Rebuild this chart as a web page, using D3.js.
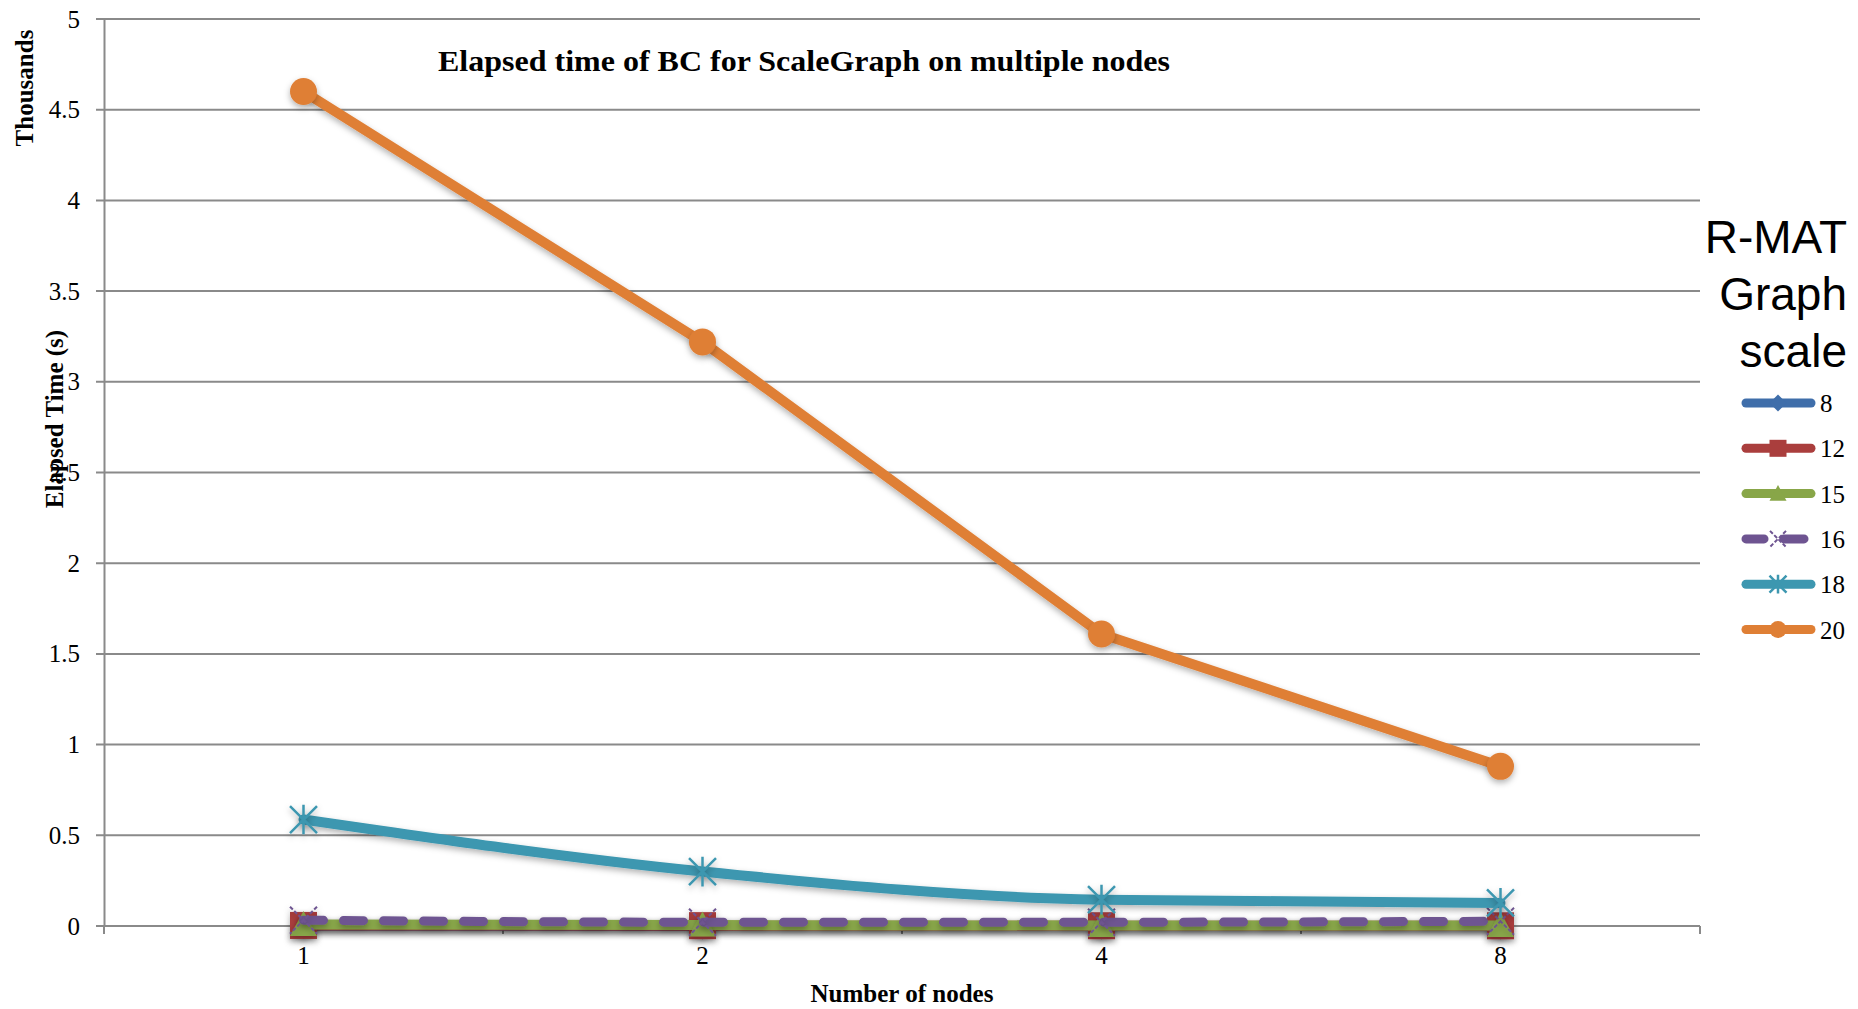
<!DOCTYPE html>
<html><head><meta charset="utf-8">
<script src="https://cdn.jsdelivr.net/npm/d3@7"></script>
<style>
body{margin:0;background:#fff;}
svg{display:block;}
</style></head>
<body>
<svg id="chart" width="1858" height="1009"></svg>
<script>
// ---- data ----
const categories = ["1", "2", "4", "8"];
const seriesNames = ["8", "12", "15", "16", "18", "20"];
const s8  = [1, 0.5, 0.4, 0.3];
const s12 = [3, 2, 1.5, 1.2];
const s15 = [8, 5, 3, 2.5];
const s16 = [32, 21, 21, 26];
const s18 = [587, 300, 145, 127];
const s20 = [4600, 3220, 1610, 880];
const yTicks = [0, 0.5, 1, 1.5, 2, 2.5, 3, 3.5, 4, 4.5, 5];

const seriesValues = [s8, s12, s15, s16, s18, s20];
const colors = ["#3F6EAA", "#AA3E3D", "#88A648", "#6E5491", "#3D97B0", "#DF7F35"];
const markers = ["diamond", "square", "triangle", "x", "star", "circle"];

const svg = d3.select("#chart");
const mLeft = 104, mRight = 1700, mTop = 19, mBottom = 926;

const x = d3.scaleBand().domain(categories).range([mLeft, mRight]);
const y = d3.scaleLinear().domain([0, 5]).range([mBottom, mTop]);
const cx = c => x(c) + x.bandwidth() / 2;

// shadow filter
const defs = svg.append("defs");
const f = defs.append("filter").attr("id", "sh").attr("filterUnits", "userSpaceOnUse")
  .attr("x", 0).attr("y", 0).attr("width", 1858).attr("height", 1009);
f.append("feDropShadow").attr("dx", 0).attr("dy", 3).attr("stdDeviation", 3).attr("flood-color", "#000").attr("flood-opacity", 0.3);

// gridlines
svg.append("g").selectAll("line").data(yTicks).join("line")
  .attr("x1", mLeft - 8).attr("x2", mRight)
  .attr("y1", d => y(d)).attr("y2", d => y(d))
  .attr("stroke", "#8a8a8a").attr("stroke-width", 2);

// y axis
const yAxis = svg.append("g").attr("transform", `translate(${mLeft},0)`)
  .call(d3.axisLeft(y).tickValues(yTicks).tickSize(0).tickPadding(24).tickFormat(d3.format("")));
yAxis.select(".domain").attr("stroke", "#8a8a8a").attr("stroke-width", 2);
yAxis.selectAll("text").attr("font-family", "Liberation Serif").attr("font-size", 25).attr("fill", "#000");

// x axis
const xAxis = svg.append("g").attr("transform", `translate(0,${mBottom})`)
  .call(d3.axisBottom(x).tickSize(0).tickPadding(20));
xAxis.select(".domain").remove();
xAxis.selectAll("text").attr("font-family", "Liberation Serif").attr("font-size", 25).attr("fill", "#000");
svg.append("line").attr("x1", mLeft).attr("x2", mRight).attr("y1", mBottom).attr("y2", mBottom)
  .attr("stroke", "#8a8a8a").attr("stroke-width", 2);
const bounds = categories.map(c => x(c)).concat([mRight]);
svg.append("g").selectAll("line").data(bounds).join("line")
  .attr("x1", d => d).attr("x2", d => d).attr("y1", mBottom).attr("y2", mBottom + 8)
  .attr("stroke", "#8a8a8a").attr("stroke-width", 2);

// marker drawing
function drawMarker(g, type, color, px, py, s) {
  const h = s / 2;
  if (type === "diamond") {
    g.append("path").attr("d", `M${px},${py - h}L${px + h},${py}L${px},${py + h}L${px - h},${py}Z`).attr("fill", color);
  } else if (type === "square") {
    g.append("rect").attr("x", px - h).attr("y", py - h).attr("width", s).attr("height", s).attr("fill", color);
  } else if (type === "triangle") {
    g.append("path").attr("d", `M${px},${py - h}L${px + h},${py + h * 0.85}L${px - h},${py + h * 0.85}Z`).attr("fill", color);
  } else if (type === "x") {
    g.append("path").attr("d", `M${px - h},${py - h}L${px + h},${py + h}M${px + h},${py - h}L${px - h},${py + h}`)
      .attr("stroke", color).attr("stroke-width", 2).attr("stroke-dasharray", "4,2").attr("fill", "none");
  } else if (type === "star") {
    g.append("path").attr("d", `M${px - h},${py - h}L${px + h},${py + h}M${px + h},${py - h}L${px - h},${py + h}M${px},${py - h * 1.1}L${px},${py + h * 1.1}`)
      .attr("stroke", color).attr("stroke-width", 2.5).attr("fill", "none");
  } else if (type === "circle") {
    g.append("circle").attr("cx", px).attr("cy", py).attr("r", h).attr("fill", color);
  }
}

const line = d3.line().x((d, i) => cx(categories[i])).y(d => y(d / 1000)).curve(d3.curveMonotoneX);
const lineStraight = d3.line().x((d, i) => cx(categories[i])).y(d => y(d / 1000));

seriesValues.forEach((vals, si) => {
  const g = svg.append("g");
  const isDash = markers[si] === "x";
  g.append("path").datum(vals)
    .attr("d", si === 5 ? lineStraight : line)
    .attr("fill", "none").attr("stroke", colors[si])
    .attr("stroke-width", isDash ? 9 : 10)
    .attr("stroke-linecap", "round").attr("stroke-linejoin", "round")
    .attr("stroke-dasharray", isDash ? "20,20" : null)
    .attr("filter", "url(#sh)");
  const mg = g.append("g").attr("filter", "url(#sh)");
  vals.forEach((v, i) => drawMarker(mg, markers[si], colors[si], cx(categories[i]), y(v / 1000), 27));
});

// title
svg.append("text").attr("x", 804).attr("y", 71).attr("text-anchor", "middle")
  .attr("font-family", "Liberation Serif").attr("font-weight", "bold").attr("font-size", 30)
  .attr("textLength", 732).attr("lengthAdjust", "spacingAndGlyphs")
  .text("Elapsed time of BC for ScaleGraph on multiple nodes");

// axis titles
svg.append("text").attr("transform", "translate(33,88) rotate(-90)").attr("text-anchor", "middle")
  .attr("font-family", "Liberation Serif").attr("font-weight", "bold").attr("font-size", 25).text("Thousands");
svg.append("text").attr("transform", "translate(63,419) rotate(-90)").attr("text-anchor", "middle")
  .attr("font-family", "Liberation Serif").attr("font-weight", "bold").attr("font-size", 25).text("Elapsed Time (s)");
svg.append("text").attr("x", 902).attr("y", 1002).attr("text-anchor", "middle")
  .attr("font-family", "Liberation Serif").attr("font-weight", "bold").attr("font-size", 25).text("Number of nodes");

// legend
const legTitle = ["R-MAT", "Graph", "scale"];
svg.append("g").selectAll("text").data(legTitle).join("text")
  .attr("x", 1847).attr("y", (d, i) => 253 + i * 57).attr("text-anchor", "end")
  .attr("font-family", "Liberation Sans").attr("font-size", 46).attr("fill", "#000").text(d => d);

seriesNames.forEach((n, i) => {
  const ly = 403 + i * 45.3;
  const g = svg.append("g");
  const isDash = markers[i] === "x";
  if (isDash) {
    g.append("line").attr("x1", 1746).attr("x2", 1764).attr("y1", ly).attr("y2", ly)
      .attr("stroke", colors[i]).attr("stroke-width", 9).attr("stroke-linecap", "round");
    g.append("line").attr("x1", 1784).attr("x2", 1804).attr("y1", ly).attr("y2", ly)
      .attr("stroke", colors[i]).attr("stroke-width", 9).attr("stroke-linecap", "round");
  } else {
    g.append("line").attr("x1", 1746).attr("x2", 1811).attr("y1", ly).attr("y2", ly)
      .attr("stroke", colors[i]).attr("stroke-width", 9).attr("stroke-linecap", "round");
  }
  drawMarker(g, markers[i], colors[i], 1778, ly, i === 3 ? 16 : 17);
  g.append("text").attr("x", 1820).attr("y", ly + 9)
    .attr("font-family", "Liberation Serif").attr("font-size", 25).attr("fill", "#000").text(n);
});
</script>
</body></html>
